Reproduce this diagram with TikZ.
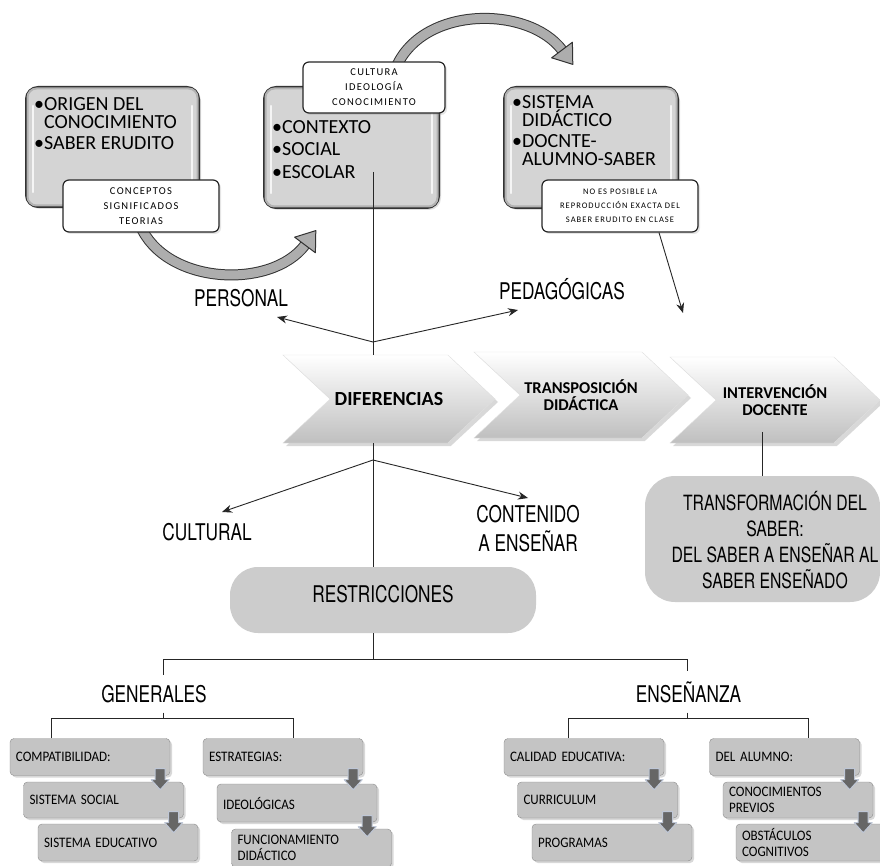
\documentclass[tikz,border=0pt]{standalone}
\usepackage{fontspec}
\setmainfont{Carlito}
\newfontfamily\narrowfont[FakeStretch=0.75]{TeX Gyre Heros}
\newfontfamily\spacedfont[LetterSpace=12]{Carlito}
\newfontfamily\lowfont[FakeStretch=0.9]{Carlito}
\usetikzlibrary{arrows.meta,shapes.symbols,shadows,calc}
\definecolor{topgray}{gray}{0.83}
\definecolor{rimgray}{gray}{0.70}
\definecolor{glint}{gray}{0.96}
\definecolor{pillgray}{gray}{0.80}
\definecolor{lowgray}{gray}{0.77}
\definecolor{bandgray}{gray}{0.68}
\definecolor{tipgray}{gray}{0.40}
\definecolor{rimblue}{rgb}{0.75,0.78,0.84}

\tikzset{
  topbox/.style={draw=black!80, line width=2pt, rounded corners=12pt, fill=topgray,
    drop shadow={opacity=0.25,shadow xshift=2pt,shadow yshift=-2pt}},
  glintline/.style={glint, line width=2.5pt, line cap=round},
  boxtxt/.style={anchor=north west, inner sep=0pt, align=left,
    font=\fontsize{20}{18.5}\selectfont},
  subbox/.style={draw=black!85, line width=1.2pt, fill=white, rounded corners=6pt,
    inner sep=0pt, align=center, font=\spacedfont\fontsize{10.5}{15}\selectfont,
    drop shadow={opacity=0.2,shadow xshift=2pt,shadow yshift=-2pt}},
  chev/.style={signal, signal to=east, signal from=west, signal pointer angle=86,
    top color=white, bottom color=black!25, draw=black!12, inner sep=0pt,
    align=center, drop shadow={opacity=0.3,shadow xshift=3pt,shadow yshift=-3pt}},
  pill/.style={fill=pillgray, draw=none},
  lbl/.style={inner sep=0pt, align=center, font=\narrowfont\fontsize{23}{29}\selectfont},
  lowbox/.style={draw=black!45, fill=lowgray, rounded corners=4pt,
    minimum height=37pt, text width=148pt, inner xsep=6pt, inner ysep=0pt,
    align=left, font=\lowfont\fontsize{14.5}{15.5}\selectfont,
    drop shadow={opacity=0.3,shadow xshift=2pt,shadow yshift=-2pt}},
  blkarrow/.pic={
    \draw[fill=tipgray, draw=rimblue, line width=1pt, line join=round]
      (-5,-11) -- (5,-11) -- (5,0) -- (9,0) -- (0,10) -- (-9,0) -- (-5,0) -- cycle;},
  band/.style={draw=black!80, line width=1pt, double=bandgray, double distance=9pt},
  bandhead/.style={draw=black!80, line width=1pt, fill=bandgray, line join=round},
  line/.style={line width=0.9pt, black!85},
  arr/.style={line, -{Stealth[length=10pt,width=8pt]}}
}

\begin{document}
\begin{tikzpicture}[x=1pt,y=-1pt]
\path[use as bounding box, fill=white] (0,0) rectangle (880,866);

% curved arrows between the top boxes
\draw[band] (140,225) .. controls (165,285) and (271,290) .. (305,245);
\draw[bandhead] (315.8,230.6) -- (315.4,252.8) -- (294.6,237.2) -- cycle;
\draw[band] (395,70) .. controls (420,5) and (528,5) .. (562,50);
\draw[bandhead] (572.8,64.4) -- (551.6,57.8) -- (572.4,42.2) -- cycle;

% top boxes
\node[topbox, minimum width=173pt, minimum height=120pt] (origen) at (112.5,147) {};
\node[topbox, minimum width=175pt, minimum height=121pt] (contexto) at (351.5,147.5) {};
\node[topbox, minimum width=174pt, minimum height=121pt] (sistema) at (591,147.5) {};
\foreach \b in {origen,contexto,sistema}{
  \draw[rimgray, line width=2pt, rounded corners=9pt] ([shift={(2.5pt,2.5pt)}]\b.south west) rectangle ([shift={(-2.5pt,-2.5pt)}]\b.north east);
  \draw[glintline] ([xshift=8pt,yshift=-20pt]\b.north west) -- ([xshift=8pt,yshift=16pt]\b.south west);
  \draw[glintline] ([xshift=-8pt,yshift=-20pt]\b.north east) -- ([xshift=-8pt,yshift=16pt]\b.south east);
}
\node[boxtxt] (origen-txt) at (34,97) {•ORIGEN DEL\\\phantom{•}CONOCIMIENTO\\[2.5pt]•SABER ERUDITO};
\node[boxtxt] (contexto-txt) at (272,120) {•CONTEXTO\\[4pt]•SOCIAL\\[4pt]•ESCOLAR};
\node[boxtxt] (sistema-txt) at (512,95) {•SISTEMA\\\phantom{•}DIDÁCTICO\\[2pt]•DOCNTE-\\\phantom{•}ALUMNO-SABER};

\node[subbox, minimum width=156pt, minimum height=52pt] (conceptos) at (141,206) {CONCEPTOS\\SIGNIFICADOS\\TEORIAS};
\node[subbox, minimum width=142pt, minimum height=51pt] (cultura) at (374,87.5) {CULTURA\\IDEOLOGÍA\\CONOCIMIENTO};
\node[subbox, minimum width=156pt, minimum height=52pt, font=\spacedfont\fontsize{8.5}{14}\selectfont] (noposible) at (620,206) {NO ES POSIBLE LA\\REPRODUCCIÓN EXACTA DEL\\SABER ERUDITO EN CLASE};

% chevrons
\node[chev, minimum width=212pt, minimum height=88pt, font=\bfseries\fontsize{20}{20}\selectfont] (chev1) at (389,399) {DIFERENCIAS};
\node[chev, minimum width=214pt, minimum height=86pt, font=\bfseries\fontsize{16.5}{17}\selectfont] (chev2) at (581,395) {TRANSPOSICIÓN\\DIDÁCTICA};
\node[chev, minimum width=210pt, minimum height=86pt, font=\bfseries\fontsize{16.5}{17}\selectfont] (chev3) at (775,400) {INTERVENCIÓN\\DOCENTE};

% labels
\node[lbl, anchor=base] (personal) at (241,306) {PERSONAL};
\node[lbl, anchor=base] (pedagog) at (562,300) {PEDAGÓGICAS};
\node[lbl, anchor=base] (cultural) at (207,540) {CULTURAL};
\node[lbl] (contenido) at (528,529) {CONTENIDO\\A ENSEÑAR};

\node[pill, minimum width=235pt, minimum height=126pt, rounded corners=30pt] (transf) at (762.5,539) {};
\node[lbl, font=\narrowfont\fontsize{21}{26}\selectfont] (transf-txt) at (775,540) {TRANSFORMACIÓN DEL\\SABER:\\DEL SABER A ENSEÑAR AL\\SABER ENSEÑADO};
\node[pill, minimum width=306pt, minimum height=66pt, rounded corners=28pt] (restr) at (383,600) {};
\node[lbl, anchor=base] (restr-txt) at (383,602) {RESTRICCIONES};

\node[lbl, anchor=base, inner ysep=10pt] (gen) at (154,702) {GENERALES};
\node[lbl, anchor=base, inner ysep=10pt] (ens) at (688.5,702) {ENSEÑANZA};

% connectors
\coordinate (ctxline) at (373,172);
\coordinate (jup) at (373,342);
\coordinate (jdn) at (373,460);
\coordinate (ptip) at (277,317);
\coordinate (gtip) at (518,310);
\coordinate (ctip) at (222,512);
\coordinate (ntip) at (528,498);
\coordinate (dtip) at (683,313);
\draw[line] (ctxline) -- (ctxline |- chev1.north);
\draw[arr] (jup) -- (ptip);
\draw[arr] (jup) -- (gtip);
\draw[line] (chev1.south -| jdn) -- (restr.north -| jdn);
\draw[arr] (jdn) -- (ctip);
\draw[arr] (jdn) -- (ntip);
\draw[arr] ([xshift=39pt]noposible.south) -- (dtip);
\draw[line] ([yshift=44pt]transf.north) -- (transf.north);

% lower boxes
\node[lowbox] (g1a) at (90,757) {COMPATIBILIDAD:};
\node[lowbox, minimum height=36pt] (g1b) at (103.5,800) {SISTEMA SOCIAL};
\node[lowbox] (g1c) at (118,842.5) {SISTEMA EDUCATIVO};
\node[lowbox] (g2a) at (283,757) {ESTRATEGIAS:};
\node[lowbox, minimum height=38pt] (g2b) at (297,803) {IDEOLÓGICAS};
\node[lowbox, minimum height=38pt, font=\lowfont\fontsize{14.5}{16.5}\selectfont] (g2c) at (311.5,848) {FUNCIONAMIENTO\\DIDÁCTICO};
\node[lowbox] (g3a) at (584,757) {CALIDAD EDUCATIVA:};
\node[lowbox, minimum height=36pt] (g3b) at (597.5,800) {CURRICULUM};
\node[lowbox] (g3c) at (612,842.5) {PROGRAMAS};
\node[lowbox, text width=138pt] (g4a) at (784.5,757) {DEL ALUMNO:};
\node[lowbox, text width=138pt, minimum height=36pt] (g4b) at (798,800) {CONOCIMIENTOS\\PREVIOS};
\node[lowbox, text width=138pt] (g4c) at (811,842.5) {OBSTÁCULOS\\COGNITIVOS};
\foreach \g in {g1,g2,g3,g4}{
  \pic (\g-arr1) at ([xshift=-10pt,yshift=-4pt]\g a.south east) {blkarrow};
  \pic (\g-arr2) at ([xshift=-10pt,yshift=-4.5pt]\g b.south east) {blkarrow};
}

% tree below RESTRICCIONES
\coordinate (tree) at (373,659);
\coordinate (gtop) at (163,659);
\coordinate (etop) at (687,659);
\coordinate (gbar) at (163,718);
\coordinate (gl) at (51,718);
\coordinate (gr) at (293,718);
\coordinate (ebar) at (687,718);
\coordinate (el) at (568,718);
\coordinate (er) at (808,718);
\draw[line] (restr.south -| tree) -- (tree);
\draw[line] (gtop) -- (etop);
\draw[line] (gtop) -- (gen.north -| gtop);
\draw[line] (etop) -- (ens.north -| etop);
\draw[line] (gen.south -| gbar) -- (gbar);
\draw[line] (ens.south -| ebar) -- (ebar);
\draw[line] (g1a.north -| gl) -- (gl) -- (gr) -- (g2a.north -| gr);
\draw[line] (g3a.north -| el) -- (el) -- (er) -- (g4a.north -| er);
\end{tikzpicture}
\end{document}
